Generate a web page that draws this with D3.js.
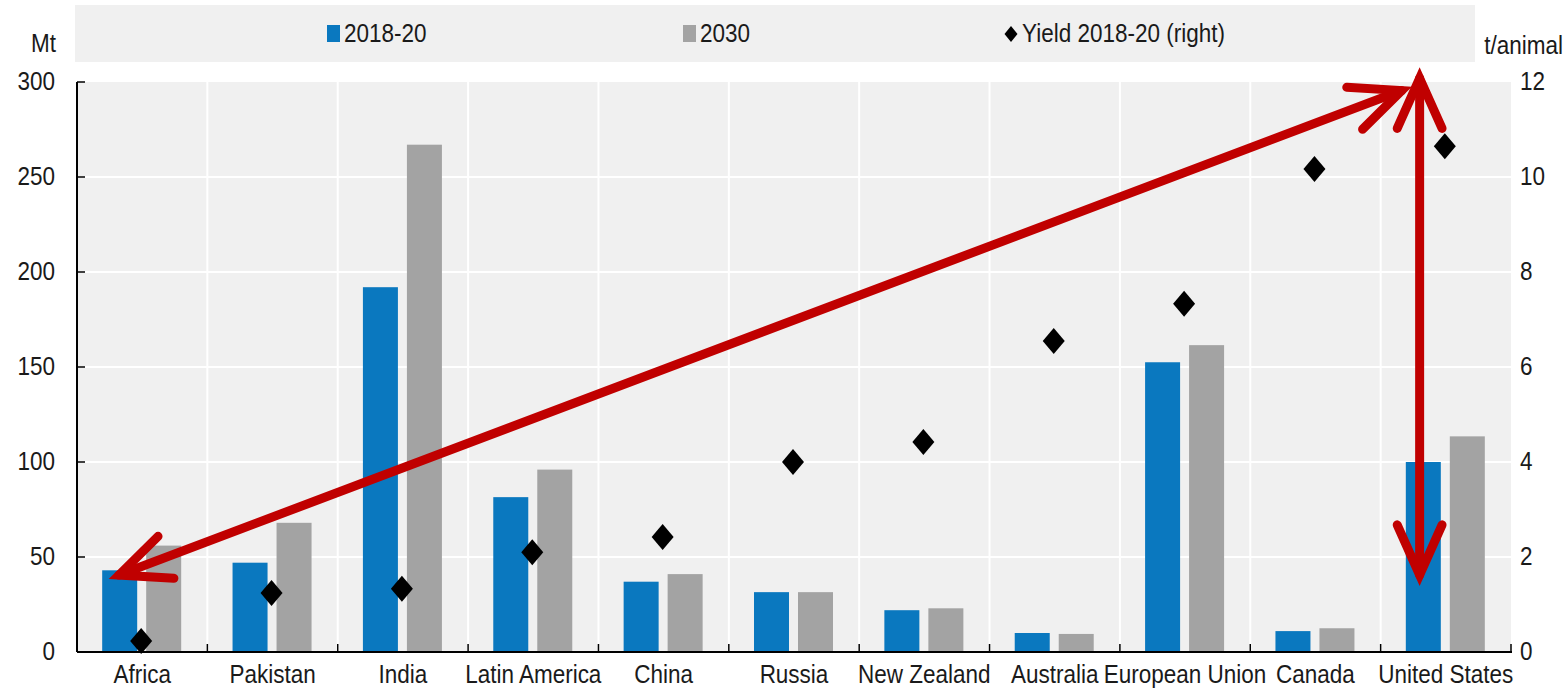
<!DOCTYPE html>
<html>
<head>
<meta charset="utf-8">
<script src="https://cdn.jsdelivr.net/npm/d3@7"></script>
<style>
  body { margin: 0; background: #fff; }
  text { font-family: "Liberation Sans", Arial, sans-serif; fill: #1a1a1a; font-size: 25px; }
</style>
</head>
<body>
<div id="vis"></div>
<script>
const categories = ["Africa", "Pakistan", "India", "Latin America", "China", "Russia",
  "New Zealand", "Australia", "European Union", "Canada", "United States"];
const prod2018 = [43, 47, 192, 81.5, 37, 31.5, 22, 10, 152.5, 11, 100];
const prod2030 = [56, 68, 267, 96, 41, 31.5, 23, 9.5, 161.5, 12.5, 113.5];
const yield2018 = [0.23, 1.24, 1.33, 2.1, 2.42, 4.0, 4.42, 6.55, 7.33, 10.17, 10.65];
const leftTicks = [0, 50, 100, 150, 200, 250, 300];
const rightTicks = [0, 2, 4, 6, 8, 10, 12];

const W = 1565, H = 691;
const margin = { top: 82, right: 54, bottom: 39, left: 77 };
const width = W - margin.left - margin.right;
const height = H - margin.top - margin.bottom;

const blue = "#0a78bf", grey = "#a3a3a3", red = "#c00000";
const narrow = 0.9;

const svg = d3.select("#vis").append("svg")
    .attr("width", W).attr("height", H);

// narrow text: the original uses a condensed face
function label(sel, tx, ty, str, anchor) {
  return sel.append("text")
    .attr("transform", `translate(${tx},${ty}) scale(${narrow},1)`)
    .attr("dy", "0.36em").attr("text-anchor", anchor || "start").text(str);
}
const diamond = (w, h) => `M0,${-h / 2}L${w / 2},0L0,${h / 2}L${-w / 2},0Z`;

const x = d3.scaleBand().domain(categories).range([0, width]).padding(0);
const y = d3.scaleLinear().domain([0, 300]).range([height, 0]);
const yR = d3.scaleLinear().domain([0, 12]).range([height, 0]);

// legend box
svg.append("rect").attr("x", 75).attr("y", 5).attr("width", 1400).attr("height", 57)
    .attr("fill", "#f0f0f0");
const legend = [
  { label: "2018-20", x: 327, type: "rect", color: blue },
  { label: "2030", x: 683, type: "rect", color: grey },
  { label: "Yield 2018-20 (right)", x: 1005, type: "diamond", color: "#000" }
];
legend.forEach(l => {
  if (l.type === "rect") {
    svg.append("rect").attr("x", l.x).attr("y", 25).attr("width", 13).attr("height", 17).attr("fill", l.color);
  } else {
    svg.append("path").attr("d", diamond(13, 16))
      .attr("transform", `translate(${l.x + 6},34)`).attr("fill", l.color);
  }
  label(svg, l.x + 17, 33, l.label);
});

label(svg, 56, 43, "Mt", "end");
label(svg, 1563, 45, "t/animal", "end");

const g = svg.append("g").attr("transform", `translate(${margin.left},${margin.top})`);

g.append("rect").attr("width", width).attr("height", height).attr("fill", "#f0f0f0");

// gridlines
g.selectAll(".hgrid").data(leftTicks.slice(1, -1)).enter().append("line")
    .attr("x1", 0).attr("x2", width).attr("y1", d => y(d)).attr("y2", d => y(d))
    .attr("stroke", "#fff").attr("stroke-width", 2);
g.selectAll(".vgrid").data(categories.slice(1)).enter().append("line")
    .attr("x1", d => x(d)).attr("x2", d => x(d)).attr("y1", 0).attr("y2", height)
    .attr("stroke", "#fff").attr("stroke-width", 2);

// bars
const bw = 35;
const rows = categories.map((c, i) => ({ c, a: prod2018[i], b: prod2030[i], yl: yield2018[i] }));
g.selectAll(".b1").data(rows).enter().append("rect")
    .attr("x", d => x(d.c) + x.bandwidth() / 2 - bw - 5).attr("width", bw)
    .attr("y", d => y(d.a)).attr("height", d => height - y(d.a)).attr("fill", blue);
g.selectAll(".b2").data(rows).enter().append("rect")
    .attr("x", d => x(d.c) + x.bandwidth() / 2 + 4).attr("width", bw)
    .attr("y", d => y(d.b)).attr("height", d => height - y(d.b)).attr("fill", grey);

// yield diamonds
g.selectAll(".dm").data(rows).enter().append("path")
    .attr("d", diamond(22, 26))
    .attr("transform", d => `translate(${x(d.c) + x.bandwidth() / 2 - 1},${yR(d.yl)})`)
    .attr("fill", "#000");

// axes
g.append("line").attr("x1", 0).attr("x2", 0).attr("y1", 0).attr("y2", height)
    .attr("stroke", "#000").attr("stroke-width", 2);
g.append("line").attr("x1", 0).attr("x2", width + 1).attr("y1", height).attr("y2", height)
    .attr("stroke", "#000").attr("stroke-width", 2);
g.selectAll(".lt").data(leftTicks.slice(1)).enter().append("line")
    .attr("x1", 0).attr("x2", 8).attr("y1", d => y(d)).attr("y2", d => y(d))
    .attr("stroke", "#000").attr("stroke-width", 1.5);
g.selectAll(".bt").data(categories.slice(1).map(c => x(c)).concat([width])).enter().append("line")
    .attr("x1", d => d).attr("x2", d => d).attr("y1", height).attr("y2", height - 8)
    .attr("stroke", "#000").attr("stroke-width", 1.5);

leftTicks.forEach(d => label(g, -22, y(d) - 1, d, "end"));
rightTicks.forEach(d => label(g, width + 9, yR(d) - 1, d));
categories.forEach(d => label(g, x(d) + x.bandwidth() / 2, height + 22, d, "middle"));

// annotation arrows (double-headed, open heads)
function arrow(x1, y1, x2, y2) {
  g.append("line").attr("x1", x1).attr("y1", y1).attr("x2", x2).attr("y2", y2)
    .attr("stroke", red).attr("stroke-width", 9).attr("stroke-linecap", "round");
  [[x1, y1, x2, y2], [x2, y2, x1, y1]].forEach(([ax, ay, bx, by]) => {
    const ang = Math.atan2(by - ay, bx - ax), L = 55, s = 0.42;
    const pts = [ang + s, ang - s].map(a => [ax + L * Math.cos(a), ay + L * Math.sin(a)]);
    g.append("path").attr("d", `M${pts[0]}L${ax},${ay}L${pts[1]}`)
      .attr("fill", "none").attr("stroke", red).attr("stroke-width", 9)
      .attr("stroke-linecap", "round").attr("stroke-linejoin", "miter");
  });
}
const usX = x("United States");
arrow(x("Africa") + 42, y(40.5), usX + 21, y(295.5));
arrow(usX + 39, y(302), usX + 39, y(40.5));
</script>
</body>
</html>
